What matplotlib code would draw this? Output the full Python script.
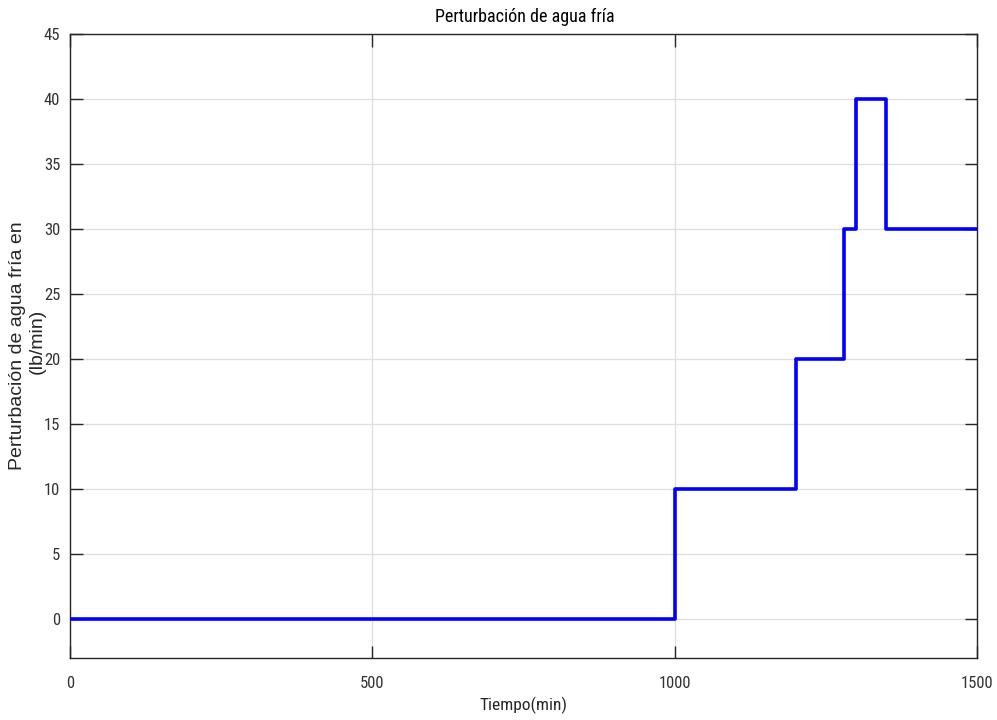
import matplotlib
matplotlib.use("Agg")
import matplotlib.pyplot as plt
from matplotlib import font_manager

# Cold-water disturbance profile (step changes over time)
tiempo = [0, 1000, 1200, 1280, 1300, 1350, 1500]
perturbacion = [0, 10, 20, 30, 40, 30, 30]
xticks = [0, 500, 1000, 1500]
yticks = [0, 5, 10, 15, 20, 25, 30, 35, 40, 45]

# Pick a narrow sans face for ticks, title and x label when one is installed
names = {f.name for f in font_manager.fontManager.ttflist}
narrow_pref = ["Liberation Sans Narrow", "DejaVu Sans Condensed", "Roboto Condensed",
               "Open Sans Condensed", "Noto Sans Condensed"]
narrow_found = [n for n in narrow_pref if n in names]
condensed_faces = [f for f in font_manager.fontManager.ttflist
                   if f.stretch in ("condensed", "semi-condensed", "extra-condensed")
                   or (isinstance(f.stretch, int) and f.stretch < 500)]
if narrow_found:
    narrow = dict(family=[narrow_found[0], "DejaVu Sans"], stretch="normal")
    nsize = 12
elif condensed_faces:
    narrow = dict(family=[condensed_faces[0].name, "DejaVu Sans"], stretch="condensed")
    nsize = 12
else:
    narrow = dict(family=["Roboto", "DejaVu Sans"], stretch="normal")
    nsize = 10.5
regular = ["Liberation Sans", "DejaVu Sans"]

W, H = 997, 720
fig = plt.figure(figsize=(W / 100, H / 100), dpi=100)
L, R, T, B = 70, 977, 34, 658
ax = fig.add_axes([L / W, 1 - B / H, (R - L) / W, (B - T) / H])

ax.step(tiempo, perturbacion, where="post", color="#0000ff", linewidth=2.6, zorder=3)

ax.set_xlim(0, 1500)
ax.set_ylim(-3, 45)
ax.set_xticks(xticks)
ax.set_yticks(yticks)
ax.grid(True, color="#dedede", linewidth=0.9)
ax.set_axisbelow(True)

for s in ax.spines.values():
    s.set_color("#262626")
    s.set_linewidth(1.0)

ax.tick_params(direction="in", length=9, width=1.0, color="#262626",
               top=True, right=True, labelsize=nsize, labelcolor="#333333")
ax.tick_params(axis="x", pad=13)
ax.tick_params(axis="y", pad=7)
for lab in ax.get_xticklabels() + ax.get_yticklabels():
    lab.set_family(narrow["family"])
    lab.set_stretch(narrow["stretch"])

fig.text(525 / W, 1 - 17 / H, "Perturbación de agua fría", ha="center", va="center",
         fontsize=13, color="#000000", **narrow)
fig.text(523 / W, 1 - 705 / H, "Tiempo(min)", ha="center", va="center",
         fontsize=12.5, color="#262626", **narrow)

# Two-line y label, drawn as separate rotated lines
fig.text(18 / W, 1 - 346 / H, "Perturbación de agua fría en", rotation=90,
         ha="center", va="center", family=regular, fontsize=14, color="#262626")
fig.text(37 / W, 1 - 341 / H, "(lb/min)", rotation=90,
         ha="center", va="center", family=regular, fontsize=14, color="#262626")

fig.savefig("out.png", dpi=100)
